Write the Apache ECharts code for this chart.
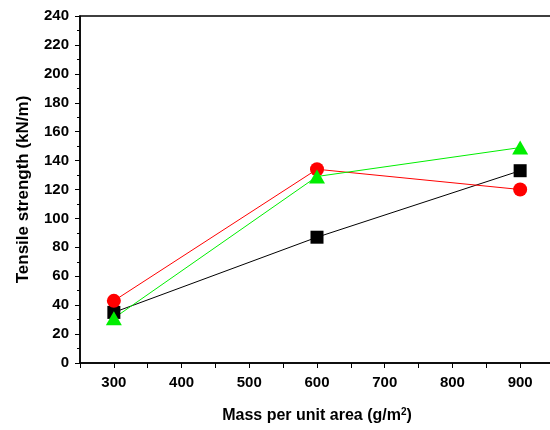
<!DOCTYPE html>
<html>
<head>
<meta charset="utf-8">
<script src="https://cdn.jsdelivr.net/npm/echarts@6/dist/echarts.min.js"></script>
<style>
  html, body { margin: 0; padding: 0; background: #fff; }
  #chart { width: 550px; height: 430px; }
</style>
</head>
<body>
<div id="chart"></div>
<script>
// 数据
const massValues = [300, 600, 900];
const seriesA = [35, 87, 133];   // 黑色方块
const seriesB = [43, 134, 120];  // 红色圆点
const seriesC = [31, 129, 149];  // 绿色三角

const pairs = (ys) => massValues.map((x, i) => [x, ys[i]]);

const chart = echarts.init(document.getElementById('chart'));

const axisFont = { color: '#000', fontWeight: 'bold', fontSize: 15, fontFamily: 'Liberation Sans, Arial, sans-serif' };

const option = {
  animation: false,
  grid: {
    left: 80, top: 16, width: 474, height: 347,
    outerBoundsMode: 'none',
    show: true, borderColor: '#000', borderWidth: 1.5
  },
  xAxis: {
    type: 'value',
    min: 250, max: 950, interval: 50,
    name: 'Mass per unit area (g/m{sup|2})',
    nameLocation: 'middle',
    nameGap: 44,
    nameTextStyle: {
      ...axisFont, fontSize: 16,
      rich: { sup: { ...axisFont, fontSize: 10, verticalAlign: 'top', padding: [0, 0, 8, 0] } }
    },
    axisLine: { lineStyle: { color: '#000', width: 1.5 } },
    axisTick: { inside: false, length: 5, lineStyle: { color: '#000' } },
    axisLabel: {
      ...axisFont, margin: 12,
      formatter: (v) => (v % 100 === 0 && v >= 300 && v <= 900) ? String(v) : ''
    },
    splitLine: { show: false }
  },
  yAxis: {
    type: 'value',
    min: 0, max: 240, interval: 20,
    name: 'Tensile strength (kN/m)',
    nameLocation: 'middle',
    nameGap: 48,
    nameTextStyle: { ...axisFont, fontSize: 17 },
    axisLine: { show: true, lineStyle: { color: '#000', width: 1.5 } },
    axisTick: { inside: false, length: 5, lineStyle: { color: '#000' } },
    minorTick: { show: true, splitNumber: 2, length: 3, lineStyle: { color: '#000' } },
    axisLabel: { ...axisFont, margin: 11 },
    splitLine: { show: false }
  },
  series: [
    {
      type: 'line', data: pairs(seriesA),
      symbol: 'rect', symbolSize: 13,
      lineStyle: { color: '#000', width: 1 },
      itemStyle: { color: '#000' }
    },
    {
      type: 'line', data: pairs(seriesB),
      symbol: 'circle', symbolSize: 14,
      lineStyle: { color: '#ff0000', width: 1 },
      itemStyle: { color: '#ff0000' }
    },
    {
      type: 'line', data: pairs(seriesC),
      symbol: 'triangle', symbolSize: [16, 14],
      lineStyle: { color: '#00ee00', width: 1 },
      itemStyle: { color: '#00ee00' }
    }
  ]
};

chart.setOption(option);
</script>
</body>
</html>
